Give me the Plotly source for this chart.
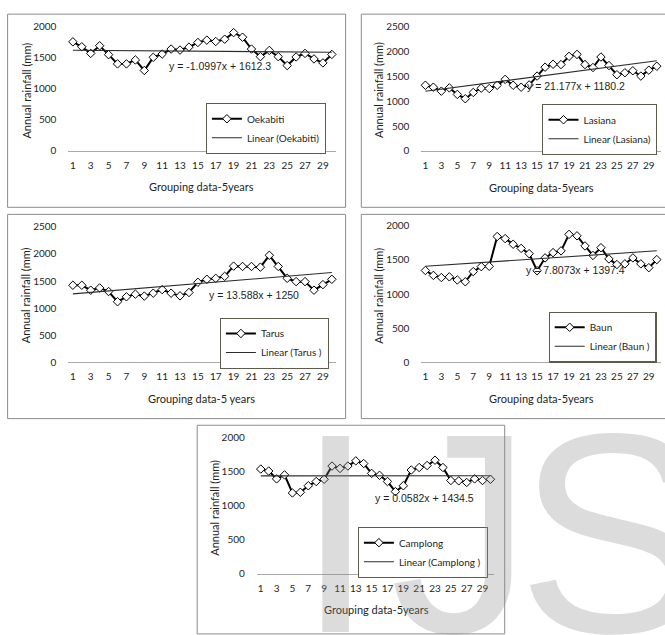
import plotly.graph_objects as go

W, H = 665, 635

# ---- data -------------------------------------------------------------
periods = list(range(1, 31))
tick_labels = [str(v) for v in range(1, 30, 2)]

oekabiti = [1746, 1667, 1560, 1683, 1540, 1392, 1392, 1455, 1286, 1497,
            1550, 1630, 1614, 1661, 1735, 1773, 1751, 1788, 1894, 1820,
            1630, 1508, 1608, 1508, 1365, 1503, 1560, 1471, 1408, 1544]
lasiana = [1323, 1284, 1204, 1270, 1139, 1052, 1178, 1264, 1257, 1323,
           1442, 1323, 1284, 1330, 1508, 1687, 1746, 1740, 1905, 1944,
           1740, 1680, 1892, 1720, 1535, 1575, 1615, 1508, 1627, 1706]
tarus = [1423, 1423, 1332, 1374, 1307, 1119, 1210, 1259, 1223, 1277,
         1343, 1277, 1228, 1289, 1478, 1533, 1551, 1588, 1776, 1770,
         1770, 1757, 1976, 1770, 1551, 1490, 1490, 1332, 1435, 1533]
baun = [1344, 1272, 1241, 1251, 1205, 1179, 1328, 1400, 1405, 1841,
        1810, 1728, 1667, 1590, 1340, 1528, 1605, 1631, 1872, 1851,
        1703, 1564, 1677, 1513, 1431, 1441, 1528, 1441, 1385, 1503]
camplong = [1534, 1505, 1390, 1448, 1183, 1193, 1289, 1351, 1384, 1578,
            1543, 1578, 1654, 1615, 1471, 1442, 1351, 1203, 1289, 1520,
            1557, 1586, 1664, 1557, 1366, 1361, 1337, 1390, 1366, 1384]

stations = ["Oekabiti", "Lasiana", "Tarus ", "Baun ", "Camplong "]
series = [oekabiti, lasiana, tarus, baun, camplong]
slopes = [-1.0997, 21.177, 13.588, 7.8073, 0.0582]
intercepts = [1612.3, 1180.2, 1250, 1397.4, 1434.5]
y_max = [2000, 2500, 2500, 2000, 2000]
x_titles = ["Grouping data-5years", "Grouping data-5years", "Grouping data-5 years",
            "Grouping data-5years", "Grouping data-5years"]
watermark = ["I", "J", "S"]

# ---- panel geometry (pixels) ------------------------------------------
# plot area: left, right, bottom(y=0), top(y=max)
plot_px = [(68.4, 336.3, 146.6, 19.4),
           (421.4, 660.8, 147.0, 20.2),
           (68.4, 336.3, 362.8, 224.5),
           (421.4, 660.8, 362.8, 223.2),
           (256.8, 494.4, 578.4, 439.3)]
# frame rectangle: x0, y0, x1, y1
frame_px = [(7.6, 7.3, 345.6, 204.5),
            (361.3, 7.3, 670, 204.5),
            (7.6, 211.7, 345.6, 420.2),
            (361.3, 211.7, 670, 420.2),
            (197.2, 427.0, 504.7, 640)]
ytitle_px = [(26.3, 85), (378.7, 85), (26.3, 294), (378.7, 295), (214.2, 511)]
xtitle_px = [(201.4, 183.4), (541.6, 184.2), (201.4, 400), (541.6, 399.2), (376.6, 615.4)]
eq_px = [(220.5, 60.7), (576, 81), (253.7, 294), (575, 268.4), (424.7, 501.2)]
legend_px = [(325.7, 124.1), (657.3, 125.1), (328.7, 343.3), (656.5, 337.0), (487.7, 556.9)]
watermark_px = [294, 388, 515]

TXT = "#1e1e1e"
FONT = "Lato"


def fx(p):
    return p / W


def fy(p):
    return 1 - p / H


fig = go.Figure()
layout = dict(
    width=W, height=H, autosize=False,
    margin=dict(l=0, r=0, t=0, b=0),
    paper_bgcolor="white", plot_bgcolor="white",
    showlegend=True,
    shapes=[], annotations=[],
)

for k in range(5):
    n = k + 1
    xa = "x" if n == 1 else f"x{n}"
    ya = "y" if n == 1 else f"y{n}"
    lg = "legend" if n == 1 else f"legend{n}"
    name = stations[k]
    s, b = slopes[k], intercepts[k]

    fig.add_trace(go.Scatter(
        x=periods, y=series[k], mode="lines+markers", name=name,
        line=dict(color="black", width=2),
        marker=dict(symbol="diamond", size=6.5, color="white",
                    line=dict(color="black", width=1)),
        xaxis=xa, yaxis=ya, legend=lg, cliponaxis=False, hoverinfo="skip"))
    fig.add_trace(go.Scatter(
        x=periods, y=[s * p + b for p in periods], mode="lines",
        name=f"Linear ({name})",
        line=dict(color="#2b2b2b", width=1.1),
        xaxis=xa, yaxis=ya, legend=lg, cliponaxis=False, hoverinfo="skip"))

    l, r, b0, t = plot_px[k]
    layout["xaxis" if n == 1 else f"xaxis{n}"] = dict(
        domain=[fx(l), fx(r)], range=[0.5, 30.5], anchor=ya,
        tickmode="array", tickvals=list(range(1, 30, 2)), ticktext=tick_labels,
        showline=True, linecolor="#a8a8a8", linewidth=1.2,
        ticks="outside", ticklen=5, tickcolor="rgba(0,0,0,0)",
        showgrid=False, zeroline=False, fixedrange=True,
        tickfont=dict(family=FONT, size=10, color=TXT))
    layout["yaxis" if n == 1 else f"yaxis{n}"] = dict(
        domain=[fy(b0), fy(t)], range=[0, y_max[k]], anchor=xa,
        tickmode="array", tickvals=list(range(0, y_max[k] + 1, 500)),
        showline=False, showgrid=False, zeroline=False, fixedrange=True,
        ticks="outside", ticklen=9, tickcolor="rgba(0,0,0,0)",
        tickfont=dict(family=FONT, size=10, color=TXT))

    lx, ly = legend_px[k]
    layout[lg] = dict(
        x=fx(lx), y=fy(ly), xanchor="right", yanchor="middle",
        bgcolor="white", bordercolor="#5c5c4c", borderwidth=1.2,
        font=dict(family=FONT, size=10, color=TXT),
        itemwidth=30, tracegroupgap=0, traceorder="normal")

    fx0, fy0, fx1, fy1 = frame_px[k]
    layout["shapes"].append(dict(
        type="rect", xref="paper", yref="paper",
        x0=fx(fx0), x1=fx(fx1), y0=fy(fy1), y1=fy(fy0),
        line=dict(color="#8c8c8c", width=1), fillcolor="rgba(0,0,0,0)",
        layer="below"))

    tx, ty = ytitle_px[k]
    layout["annotations"].append(dict(
        text="Annual rainfall (mm)", textangle=-90, xref="paper", yref="paper",
        x=fx(tx), y=fy(ty), xanchor="center", yanchor="middle", showarrow=False,
        font=dict(family=FONT, size=11, color=TXT)))
    tx, ty = xtitle_px[k]
    layout["annotations"].append(dict(
        text=x_titles[k], xref="paper", yref="paper",
        x=fx(tx), y=fy(ty), xanchor="center", yanchor="middle", showarrow=False,
        font=dict(family=FONT, size=11, color=TXT)))
    tx, ty = eq_px[k]
    layout["annotations"].append(dict(
        text=f"y = {s:g}x + {b:g}", xref="paper", yref="paper",
        x=fx(tx), y=fy(ty), xanchor="center", yanchor="middle", showarrow=False,
        font=dict(family="Liberation Sans", size=10.5, color=TXT)))

# journal watermark, one letter at a time
for letter, wx in zip(watermark, watermark_px):
    layout["annotations"].append(dict(
        text=letter, xref="paper", yref="paper", x=fx(wx), y=fy(373),
        xanchor="left", yanchor="top", showarrow=False,
        font=dict(family="Liberation Sans", size=285, color="rgba(140,140,140,0.3)")))

fig.update_layout(**layout)
fig.write_html("out.html", config={"displayModeBar": False})
